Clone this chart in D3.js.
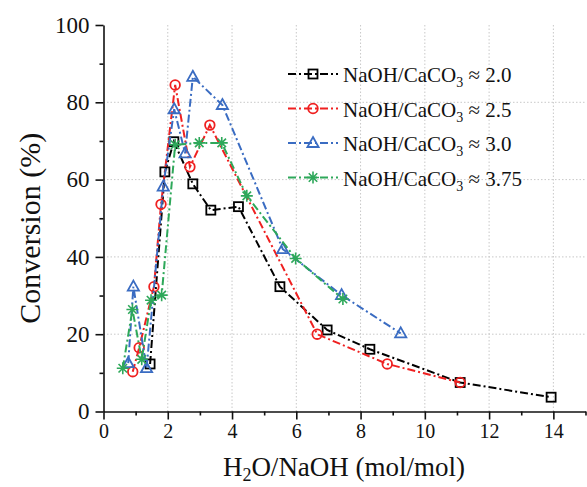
<!DOCTYPE html>
<html>
<head>
<meta charset="utf-8">
<script src="https://cdn.jsdelivr.net/npm/d3@7"></script>
<style>
  html, body { margin: 0; padding: 0; background: #fff; }
  svg { display: block; }
</style>
</head>
<body>
<div id="chart"></div>
<script>
// --- DATA ---
const ratio20X = [1.45, 1.91, 2.19, 2.78, 3.34, 4.20, 5.49, 6.96, 8.29, 11.10, 13.93];
const ratio20Y = [12.3, 62.0, 69.8, 58.9, 52.1, 53.0, 32.3, 21.1, 16.1, 7.5, 3.7];

const ratio25X = [0.91, 1.11, 1.57, 1.79, 2.23, 2.69, 3.31, 6.65, 8.83, 11.10];
const ratio25Y = [10.3, 16.5, 32.3, 53.6, 84.5, 63.3, 74.1, 20.0, 12.3, 7.5];

const ratio30X = [0.77, 0.93, 1.34, 1.86, 2.20, 2.54, 2.78, 3.70, 5.58, 7.41, 9.25];
const ratio30Y = [12.5, 32.3, 11.2, 58.2, 78.2, 66.8, 86.6, 79.3, 42.0, 30.1, 20.2];

const ratio375X = [0.60, 0.90, 1.19, 1.48, 1.81, 2.23, 2.98, 3.68, 4.46, 5.98, 7.45];
const ratio375Y = [11.2, 26.4, 13.5, 28.8, 30.1, 69.0, 69.5, 69.5, 55.8, 39.6, 29.1];

const legendValues = ["2.0", "2.5", "3.0", "3.75"];
const xTicks = [0, 2, 4, 6, 8, 10, 12, 14];
const yTicks = [0, 20, 40, 60, 80, 100];

// --- CONFIG ---
const WIDTH = 587, HEIGHT = 487;
const PLOT = { left: 103.5, right: 585.5, top: 25, bottom: 411.5 };
const FONT = "'Liberation Serif', 'Times New Roman', serif";
const DASH = "8,3,2,3";

const series = [
  { x: ratio20X, y: ratio20Y, color: "#000000", marker: "square", label: legendValues[0] },
  { x: ratio25X, y: ratio25Y, color: "#ef2020", marker: "circle", label: legendValues[1] },
  { x: ratio30X, y: ratio30Y, color: "#3a6cc2", marker: "triangle", label: legendValues[2] },
  { x: ratio375X, y: ratio375Y, color: "#2ea85a", marker: "star", label: legendValues[3] }
];

const x = d3.scaleLinear().domain([0, 15]).range([PLOT.left, PLOT.right]);
const y = d3.scaleLinear().domain([0, 100]).range([PLOT.bottom, PLOT.top]);

const svg = d3.select("#chart").append("svg")
  .attr("width", WIDTH).attr("height", HEIGHT)
  .style("font-family", FONT);

// grid
const grid = svg.append("g").attr("stroke", "#c8c8c8").attr("stroke-width", 1).attr("stroke-dasharray", "1.5,2");
grid.selectAll("line.gx").data(xTicks.filter(d => d > 0)).join("line")
  .attr("x1", d => x(d)).attr("x2", d => x(d)).attr("y1", PLOT.top).attr("y2", PLOT.bottom);
grid.selectAll("line.gy").data(yTicks.filter(d => d > 0 && d < 100)).join("line")
  .attr("y1", d => y(d)).attr("y2", d => y(d)).attr("x1", PLOT.left).attr("x2", PLOT.right);

// axes
const xAxis = svg.append("g").attr("transform", `translate(0,${PLOT.bottom})`)
  .call(d3.axisBottom(x).tickValues(xTicks).tickSize(8).tickSizeOuter(0).tickPadding(4));
svg.append("g").attr("transform", `translate(0,${PLOT.bottom})`)
  .call(d3.axisBottom(x).tickValues(d3.range(1, 16, 2)).tickSize(4).tickSizeOuter(0).tickFormat(""))
  .call(g => g.select(".domain").remove());
xAxis.selectAll("text").attr("font-size", 20).attr("font-family", FONT).attr("fill", "#111");

const yAxis = svg.append("g").attr("transform", `translate(${PLOT.left},0)`)
  .call(d3.axisLeft(y).tickValues(yTicks).tickSize(8).tickSizeOuter(0).tickPadding(6));
svg.append("g").attr("transform", `translate(${PLOT.left},0)`)
  .call(d3.axisLeft(y).tickValues(d3.range(10, 100, 20)).tickSize(4).tickSizeOuter(0).tickFormat(""))
  .call(g => g.select(".domain").remove());
yAxis.selectAll("text").attr("font-size", 23).attr("font-family", FONT).attr("fill", "#111");

svg.selectAll(".domain, .tick line").attr("stroke", "#111").attr("stroke-width", 1.6);

// markers
function drawMarker(g, type, color) {
  if (type === "square") {
    g.append("rect").attr("x", -4.5).attr("y", -4.5).attr("width", 9).attr("height", 9)
      .attr("fill", "none").attr("stroke", color).attr("stroke-width", 1.8);
  } else if (type === "circle") {
    g.append("circle").attr("r", 4.8)
      .attr("fill", "none").attr("stroke", color).attr("stroke-width", 1.8);
  } else if (type === "triangle") {
    g.append("path").attr("d", "M0,-6L5.6,4L-5.6,4Z")
      .attr("fill", "none").attr("stroke", color).attr("stroke-width", 1.8);
  } else {
    const r = 6;
    let p = "";
    for (let k = 0; k < 4; k++) {
      const a = k * Math.PI / 4;
      p += `M${-r * Math.cos(a)},${-r * Math.sin(a)}L${r * Math.cos(a)},${r * Math.sin(a)}`;
    }
    g.append("path").attr("d", p).attr("stroke", color).attr("stroke-width", 1.6).attr("fill", "none");
  }
}

const line = d3.line().x(d => x(d[0])).y(d => y(d[1]));

series.forEach(s => {
  const pts = s.x.map((v, i) => [v, s.y[i]]);
  svg.append("path").datum(pts).attr("d", line)
    .attr("fill", "none").attr("stroke", s.color).attr("stroke-width", 2)
    .attr("stroke-dasharray", DASH);
  pts.forEach(p => {
    const g = svg.append("g").attr("transform", `translate(${x(p[0])},${y(p[1])})`);
    drawMarker(g, s.marker, s.color);
  });
});

// legend
const legend = svg.append("g");
series.forEach((s, i) => {
  const cy = 74 + i * 34.5;
  const g = legend.append("g").attr("transform", `translate(0,${cy})`);
  g.append("line").attr("x1", 288).attr("x2", 338).attr("y1", 0).attr("y2", 0)
    .attr("stroke", s.color).attr("stroke-width", 2).attr("stroke-dasharray", DASH);
  const m = g.append("g").attr("transform", "translate(313,0)");
  drawMarker(m, s.marker, s.color);
  const t = g.append("text").attr("x", 343).attr("y", 8).attr("font-size", 21).attr("fill", "#111");
  t.append("tspan").text("NaOH/CaCO");
  t.append("tspan").attr("font-size", 14).attr("dy", 5).text("3");
  t.append("tspan").attr("dy", -5).text(" \u2248 " + s.label);
});

// axis titles
const xt = svg.append("text").attr("x", 344).attr("y", 476).attr("text-anchor", "middle")
  .attr("font-size", 27).attr("fill", "#111");
xt.append("tspan").text("H");
xt.append("tspan").attr("font-size", 18).attr("dy", 5).text("2");
xt.append("tspan").attr("dy", -5).text("O/NaOH (mol/mol)");

svg.append("text").attr("transform", `translate(40,${(PLOT.top + PLOT.bottom) / 2 + 10}) rotate(-90)`)
  .attr("text-anchor", "middle").attr("font-size", 30).attr("fill", "#111")
  .text("Conversion (%)");
</script>
</body>
</html>
